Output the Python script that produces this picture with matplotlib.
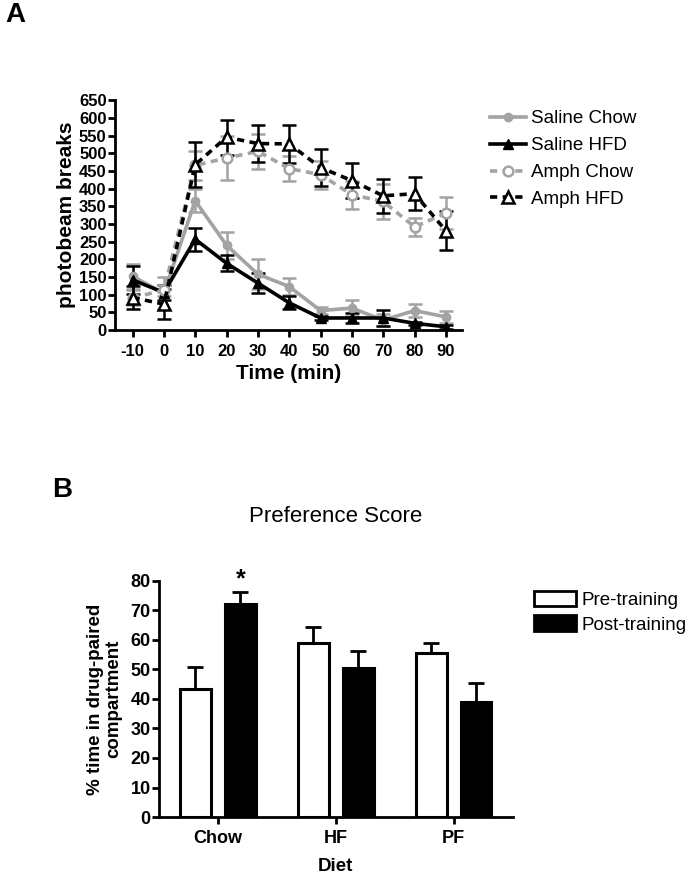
import matplotlib
matplotlib.use("Agg")
import matplotlib.pyplot as plt
import numpy as np
from matplotlib.patches import Patch

plt.rcParams['font.family'] = ['Liberation Sans', 'DejaVu Sans']
plt.rcParams['axes.unicode_minus'] = False

# Panel A data
time = [-10, 0, 10, 20, 30, 40, 50, 60, 70, 80, 90]
saline_chow = [152, 104, 366, 240, 158, 123, 55, 62, 28, 55, 37]
saline_chow_err = [35, 45, 33, 38, 42, 25, 10, 22, 18, 18, 18]
saline_hfd = [142, 106, 257, 189, 133, 77, 34, 34, 34, 19, 9]
saline_hfd_err = [40, 20, 33, 22, 27, 18, 5, 14, 22, 5, 5]
amph_chow = [92, 112, 466, 487, 506, 457, 440, 383, 364, 292, 331]
amph_chow_err = [22, 15, 40, 62, 50, 35, 40, 40, 50, 26, 45]
amph_hfd = [92, 73, 468, 546, 528, 527, 460, 423, 380, 386, 281]
amph_hfd_err = [33, 43, 63, 50, 53, 53, 52, 50, 48, 47, 55]

# Panel B data
diets = ["Chow", "HF", "PF"]
pre_training = [43.3, 58.8, 55.7]
pre_err = [7.6, 5.7, 3.2]
post_training = [72.3, 50.4, 39.0]
post_err = [3.8, 5.9, 6.3]

gray = '#a3a3a3'
fig = plt.figure(figsize=(6.91, 8.76), dpi=100)

# ---------- Panel A ----------
ax1 = fig.add_axes([0.1664, 0.6233, 0.502, 0.262])
ax1.errorbar(time, saline_chow, yerr=saline_chow_err, color=gray, lw=2.6,
             marker='o', ms=6, capsize=5, capthick=1.8, elinewidth=1.8,
             label='Saline Chow')
ax1.errorbar(time, saline_hfd, yerr=saline_hfd_err, color='black', lw=2.6,
             marker='^', ms=7, capsize=5, capthick=1.8, elinewidth=1.8,
             label='Saline HFD')
ax1.errorbar(time, amph_chow, yerr=amph_chow_err, color=gray, lw=2.6, ls=(0, (2, 1.5)),
             marker='o', ms=7, mfc='white', mew=1.8, capsize=5, capthick=1.8,
             elinewidth=1.8, label='Amph Chow')
ax1.errorbar(time, amph_hfd, yerr=amph_hfd_err, color='black', lw=2.6, ls=(0, (2, 1.5)),
             marker='^', ms=8.5, mfc='white', mew=1.8, capsize=5, capthick=1.8,
             elinewidth=1.8, label='Amph HFD')

ax1.set_xlim(-15.6, 95.1)
ax1.set_ylim(0, 650)
ax1.set_xticks(time)
ax1.set_yticks(np.arange(0, 651, 50))
ax1.set_xlabel('Time (min)', fontsize=15, fontweight='bold', labelpad=4)
ax1.set_ylabel('photobeam breaks', fontsize=15, fontweight='bold', labelpad=2)
for s in ['top', 'right']:
    ax1.spines[s].set_visible(False)
for s in ['left', 'bottom']:
    ax1.spines[s].set_linewidth(2)
ax1.tick_params(axis='both', width=2, length=5, labelsize=12, pad=1)
ax1.tick_params(axis='x', pad=5)
for lab in ax1.get_xticklabels() + ax1.get_yticklabels():
    lab.set_fontweight('bold')

h, l = ax1.get_legend_handles_labels()
h = [x[0] for x in h]
ax1.legend(h, l, loc='upper left', bbox_to_anchor=(1.06, 0.99), frameon=False,
           fontsize=13.5, handlelength=1.9, handletextpad=0.3, labelspacing=0.52,
           borderaxespad=0)

fig.text(0.0224, 0.983, 'A', fontsize=20, fontweight='bold', ha='center', va='center')

# ---------- Panel B ----------
ax2 = fig.add_axes([0.230, 0.0673, 0.512, 0.2697])
x = np.arange(len(diets))
w = 0.26
off = 0.19
ax2.bar(x - off, pre_training, w, color='white', edgecolor='black', lw=2.2,
        label='Pre-training')
ax2.errorbar(x - off, pre_training, yerr=[np.zeros(3), pre_err], fmt='none',
             ecolor='black', elinewidth=2, capsize=6, capthick=2)
ax2.bar(x + off, post_training, w, color='black', edgecolor='black', lw=2.2,
        label='Post-training')
ax2.errorbar(x + off, post_training, yerr=[np.zeros(3), post_err], fmt='none',
             ecolor='black', elinewidth=2, capsize=6, capthick=2)
ax2.text(x[0] + off, post_training[0] + post_err[0] + 0.3, '*', ha='center',
         va='bottom', fontsize=18, fontweight='bold')

ax2.set_xlim(-0.5, 2.5)
ax2.set_ylim(0, 80)
ax2.set_xticks(x)
ax2.set_xticklabels(diets)
ax2.set_yticks(np.arange(0, 81, 10))
ax2.set_xlabel('Diet', fontsize=13.5, fontweight='bold', labelpad=8)
ax2.set_ylabel('% time in drug-paired\ncompartment', fontsize=13.5,
               fontweight='bold', labelpad=6, linespacing=1.05)
ax2.set_title('Preference Score', fontsize=16, pad=42)
for s in ['top', 'right']:
    ax2.spines[s].set_visible(False)
for s in ['left', 'bottom']:
    ax2.spines[s].set_linewidth(2)
ax2.tick_params(width=2, length=5, labelsize=13, pad=1)
ax2.tick_params(axis='x', pad=4)
for lab in ax2.get_xticklabels() + ax2.get_yticklabels():
    lab.set_fontweight('bold')

handles = [Patch(facecolor='white', edgecolor='black', lw=2),
           Patch(facecolor='black', edgecolor='black', lw=2)]
ax2.legend(handles, ['Pre-training', 'Post-training'], loc='upper left',
           bbox_to_anchor=(1.04, 0.99), frameon=False, fontsize=13.5,
           handlelength=2.2, handleheight=0.9, handletextpad=0.3,
           labelspacing=0.35, borderaxespad=0)

fig.text(0.0897, 0.4406, 'B', fontsize=20, fontweight='bold', ha='center', va='center')

fig.savefig('out.png', dpi=100)
